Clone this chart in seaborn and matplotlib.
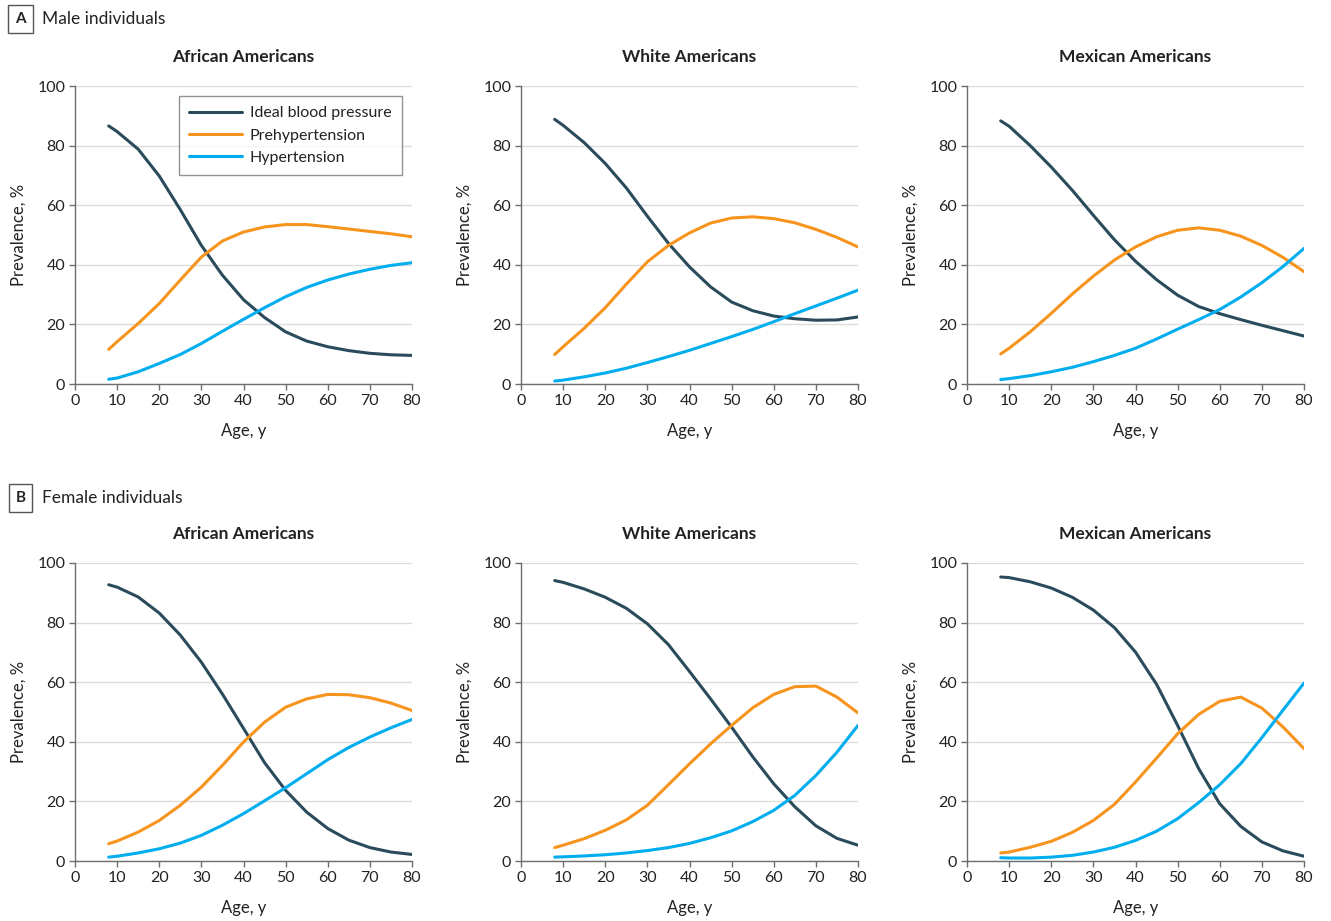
import matplotlib
matplotlib.use("Agg")
import matplotlib.pyplot as plt
import pandas as pd
import seaborn as sns

# Age grid (years) at which the curves were read
ages = [8, 10, 15, 20, 25, 30, 35, 40, 45, 50, 55, 60, 65, 70, 75, 80]

# Male individuals
male_aa_ideal = [86.6, 84.7, 78.8, 69.8, 58.5, 46.5, 36.5, 28.3, 22.3, 17.5, 14.4, 12.5, 11.2, 10.3, 9.8, 9.6]
male_aa_pre = [11.6, 14.2, 20.3, 27.0, 34.9, 42.6, 48.0, 51.0, 52.7, 53.5, 53.5, 52.8, 52.0, 51.2, 50.4, 49.4]
male_aa_hyp = [1.6, 2.0, 4.1, 6.9, 9.9, 13.6, 17.7, 21.7, 25.6, 29.3, 32.4, 34.9, 36.9, 38.5, 39.8, 40.7]

male_wa_ideal = [88.8, 86.8, 81.0, 74.0, 65.8, 56.3, 47.2, 39.3, 32.6, 27.5, 24.6, 22.8, 21.9, 21.4, 21.5, 22.5]
male_wa_pre = [9.9, 12.5, 18.7, 25.6, 33.5, 41.0, 46.5, 50.7, 54.0, 55.7, 56.1, 55.5, 54.1, 51.9, 49.2, 46.0]
male_wa_hyp = [1.0, 1.3, 2.4, 3.7, 5.3, 7.2, 9.2, 11.3, 13.6, 15.9, 18.3, 20.9, 23.6, 26.2, 28.8, 31.5]

male_ma_ideal = [88.3, 86.5, 80.0, 72.8, 65.0, 56.6, 48.4, 41.2, 35.0, 29.8, 26.0, 23.6, 21.6, 19.7, 17.9, 16.1]
male_ma_pre = [10.1, 12.0, 17.5, 23.7, 30.2, 36.2, 41.6, 46.0, 49.4, 51.6, 52.4, 51.6, 49.6, 46.5, 42.5, 37.7]
male_ma_hyp = [1.5, 1.8, 2.8, 4.1, 5.6, 7.5, 9.6, 12.0, 15.1, 18.4, 21.6, 25.0, 29.2, 34.0, 39.4, 45.5]

# Female individuals
female_aa_ideal = [92.7, 91.9, 88.6, 83.2, 75.8, 66.7, 56.0, 44.5, 33.0, 23.7, 16.4, 10.9, 7.0, 4.5, 3.0, 2.2]
female_aa_pre = [5.8, 6.7, 9.7, 13.6, 18.7, 24.8, 32.1, 39.9, 46.6, 51.6, 54.4, 55.9, 55.8, 54.8, 53.0, 50.5]
female_aa_hyp = [1.3, 1.6, 2.7, 4.1, 6.0, 8.6, 12.0, 15.9, 20.2, 24.6, 29.3, 34.0, 38.1, 41.6, 44.7, 47.5]

female_wa_ideal = [94.1, 93.5, 91.3, 88.5, 84.8, 79.6, 72.6, 63.6, 54.4, 44.9, 35.0, 25.9, 18.2, 11.8, 7.6, 5.3]
female_wa_pre = [4.5, 5.3, 7.5, 10.3, 13.8, 18.7, 25.6, 32.6, 39.3, 45.5, 51.4, 55.9, 58.5, 58.7, 55.0, 49.7]
female_wa_hyp = [1.3, 1.4, 1.7, 2.1, 2.7, 3.5, 4.5, 5.9, 7.8, 10.1, 13.2, 17.0, 22.0, 28.7, 36.5, 45.5]

female_ma_ideal = [95.3, 95.1, 93.7, 91.6, 88.5, 84.2, 78.3, 70.1, 59.3, 45.5, 31.0, 19.2, 11.6, 6.4, 3.4, 1.6]
female_ma_pre = [2.7, 3.0, 4.6, 6.6, 9.6, 13.6, 19.0, 26.5, 34.5, 42.7, 49.2, 53.6, 55.0, 51.3, 45.0, 37.7]
female_ma_hyp = [1.1, 1.0, 1.0, 1.3, 1.9, 3.0, 4.6, 6.9, 10.0, 14.2, 19.6, 25.6, 32.7, 41.4, 50.6, 59.7]

groups = ["African Americans", "White Americans", "Mexican Americans"]
statuses = ["Ideal blood pressure", "Prehypertension", "Hypertension"]
colors = ["#2a4b5b", "#f7941d", "#00aeef"]

male = [
    (male_aa_ideal, male_aa_pre, male_aa_hyp),
    (male_wa_ideal, male_wa_pre, male_wa_hyp),
    (male_ma_ideal, male_ma_pre, male_ma_hyp),
]
female = [
    (female_aa_ideal, female_aa_pre, female_aa_hyp),
    (female_wa_ideal, female_wa_pre, female_wa_hyp),
    (female_ma_ideal, female_ma_pre, female_ma_hyp),
]

sns.set_theme(style="white")
plt.rcParams["font.family"] = ["Lato", "DejaVu Sans"]

fig = plt.figure(figsize=(13.31, 9.21), dpi=100)

W, H = 1331, 921
col_left = [75, 521, 967]
row_top = [86, 563]
ax_w, ax_h = 337, 298

text_col = "#222222"
axis_col = "#6e6e6e"

for r, (rows, letter, header) in enumerate([(male, "A", "Male individuals"),
                                            (female, "B", "Female individuals")]):
    # section header with boxed letter
    ytxt = 1 - (19 if r == 0 else 498) / H
    fig.text(20.5 / W, ytxt, letter, ha="center", va="center", fontsize=11,
             fontweight="bold", color=text_col,
             bbox=dict(boxstyle="square,pad=0.45", fc="white", ec="#555555", lw=1))
    fig.text(42 / W, ytxt, header, ha="left", va="center", fontsize=12.5, color=text_col)

    for c, series in enumerate(rows):
        left = col_left[c] / W
        bottom = 1 - (row_top[r] + ax_h) / H
        ax = fig.add_axes([left, bottom, ax_w / W, ax_h / H])

        df = pd.concat([
            pd.DataFrame({"Age": ages, "Prevalence": vals, "Status": s})
            for s, vals in zip(statuses, series)
        ], ignore_index=True)

        sns.lineplot(data=df, x="Age", y="Prevalence", hue="Status",
                     hue_order=statuses, palette=colors, linewidth=2.2,
                     legend=False, ax=ax)
        for ln in ax.lines:
            ln.set_solid_joinstyle("round")

        ax.set_xlim(0, 80)
        ax.set_ylim(0, 100)
        ax.set_xticks(range(0, 81, 10))
        ax.set_yticks(range(0, 101, 20))
        ax.yaxis.grid(True, color="#dcdcdc", linewidth=1)
        ax.xaxis.grid(False)
        ax.set_axisbelow(True)
        for side in ["top", "right"]:
            ax.spines[side].set_visible(False)
        for side in ["left", "bottom"]:
            ax.spines[side].set_color(axis_col)
            ax.spines[side].set_linewidth(1)
        ax.tick_params(axis="both", which="major", direction="out", length=4,
                       width=1, color=axis_col, labelsize=11.5, labelcolor=text_col,
                       pad=3, left=True, bottom=True)

        ax.set_xlabel("Age, y", fontsize=12, color=text_col, labelpad=11)
        ax.set_ylabel("Prevalence, %", fontsize=12, color=text_col, labelpad=8)
        ax.set_title(groups[c], fontsize=12.5, fontweight="bold", color=text_col, pad=17)

        if r == 0 and c == 0:
            leg = ax.legend(ax.lines[:3], statuses, loc="upper right",
                            bbox_to_anchor=(0.97, 0.967), borderaxespad=0,
                            fontsize=11.5, frameon=True, fancybox=False,
                            handlelength=3.3, labelspacing=0.5,
                            borderpad=0.65, handletextpad=0.5)
            leg.get_frame().set_edgecolor("#777777")
            leg.get_frame().set_linewidth(1)
            for t in leg.get_texts():
                t.set_color(text_col)

fig.savefig("out.png", dpi=100)
